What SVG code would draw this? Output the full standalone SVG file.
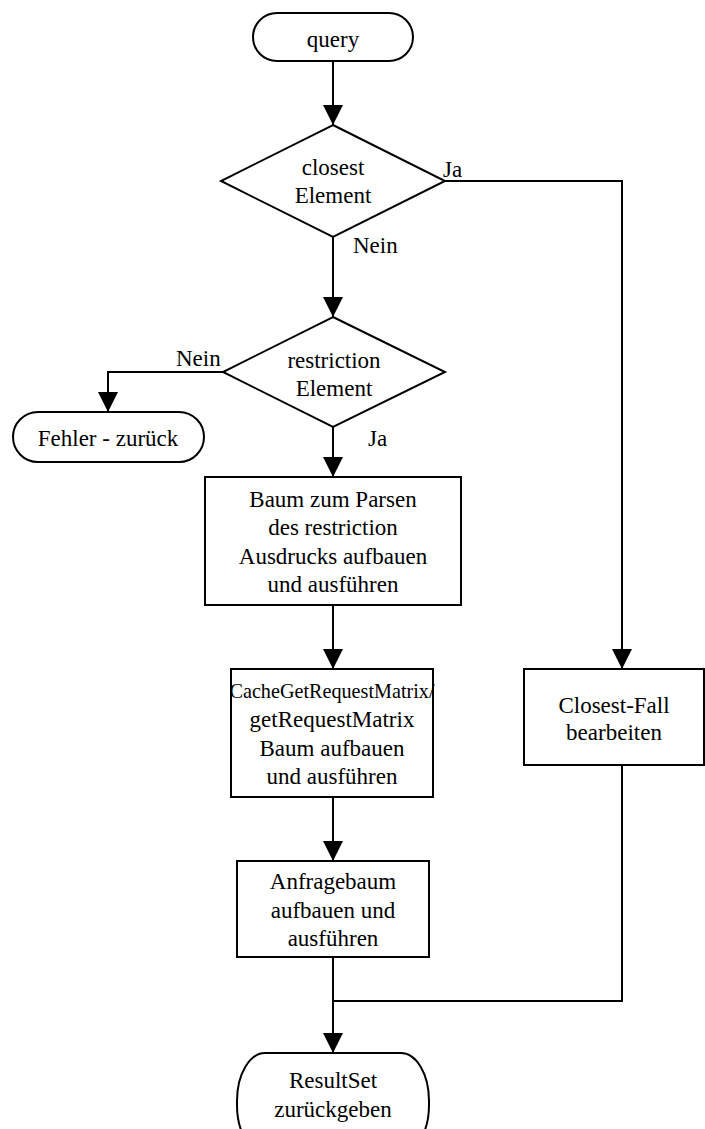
<svg xmlns="http://www.w3.org/2000/svg" width="705" height="1129" viewBox="0 0 705 1129">
  <style>
    .shape { fill: #ffffff; stroke: #000000; stroke-width: 2; }
    .edge { fill: none; stroke: #000000; stroke-width: 2; }
    .arrow { marker-end: url(#head); }
    text { font-family: "Liberation Serif", "Times New Roman", serif; font-size: 23px; fill: #000000; }
    .c { text-anchor: middle; }
  </style>
  <defs>
    <marker id="head" markerUnits="userSpaceOnUse" markerWidth="20" markerHeight="20" refX="20" refY="10" orient="auto">
      <path d="M0,0 L20,10 L0,20 Z" fill="#000000"/>
    </marker>
  </defs>
  <rect width="705" height="1129" fill="#ffffff"/>

  <!-- connectors -->
  <g id="connectors">
    <path class="edge arrow" d="M333,61 L333,125"/>
    <path class="edge arrow" d="M445,181 L622,181 L622,669"/>
    <path class="edge arrow" d="M333,237 L333,317"/>
    <path class="edge arrow" d="M223,372 L108,372 L108,412"/>
    <path class="edge arrow" d="M333,427 L333,477"/>
    <path class="edge arrow" d="M333,605 L333,669"/>
    <path class="edge arrow" d="M333,797 L333,861"/>
    <path class="edge arrow" d="M333,957 L333,1053"/>
    <path class="edge" d="M622,765 L622,1001 L333,1001"/>
    <text x="443" y="177">Ja</text>
    <text x="353" y="253">Nein</text>
    <text x="176" y="366">Nein</text>
    <text x="368" y="446">Ja</text>
  </g>

  <!-- nodes -->
  <g id="query">
    <rect class="shape" x="253" y="13" width="160" height="48" rx="24" ry="24"/>
    <text class="c" x="333" y="47">query</text>
  </g>
  <g id="closest">
    <polygon class="shape" points="333,125 445,181 333,237 221,181"/>
    <text class="c" x="333" y="175">closest</text>
    <text class="c" x="333" y="203">Element</text>
  </g>
  <g id="restriction">
    <polygon class="shape" points="333,317 445,372 333,427 223,372"/>
    <text class="c" x="334" y="368">restriction</text>
    <text class="c" x="334" y="396">Element</text>
  </g>
  <g id="error">
    <rect class="shape" x="13" y="412" width="191" height="50" rx="25" ry="25"/>
    <text class="c" x="108" y="446">Fehler - zurück</text>
  </g>
  <g id="parse-tree">
    <rect class="shape" x="205" y="477" width="256" height="128"/>
    <text class="c" x="333" y="507">Baum zum Parsen</text>
    <text class="c" x="333" y="535">des restriction</text>
    <text class="c" x="333" y="564">Ausdrucks aufbauen</text>
    <text class="c" x="333" y="592">und ausführen</text>
  </g>
  <g id="request-matrix">
    <rect class="shape" x="231" y="669" width="202" height="128"/>
    <text class="c" x="332" y="698" style="font-size:22px" textLength="205" lengthAdjust="spacingAndGlyphs">CacheGetRequestMatrix/</text>
    <text class="c" x="332" y="727">getRequestMatrix</text>
    <text class="c" x="332" y="756">Baum aufbauen</text>
    <text class="c" x="332" y="784">und ausführen</text>
  </g>
  <g id="closest-case">
    <rect class="shape" x="524" y="669" width="180" height="96"/>
    <text class="c" x="614" y="713">Closest-Fall</text>
    <text class="c" x="614" y="740">bearbeiten</text>
  </g>
  <g id="query-tree">
    <rect class="shape" x="237" y="861" width="192" height="96"/>
    <text class="c" x="333" y="889">Anfragebaum</text>
    <text class="c" x="333" y="918">aufbauen und</text>
    <text class="c" x="333" y="946">ausführen</text>
  </g>
  <g id="result">
    <rect class="shape" x="237" y="1053" width="192" height="100" rx="28" ry="48"/>
    <text class="c" x="333" y="1088">ResultSet</text>
    <text class="c" x="333" y="1117">zurückgeben</text>
  </g>
</svg>
